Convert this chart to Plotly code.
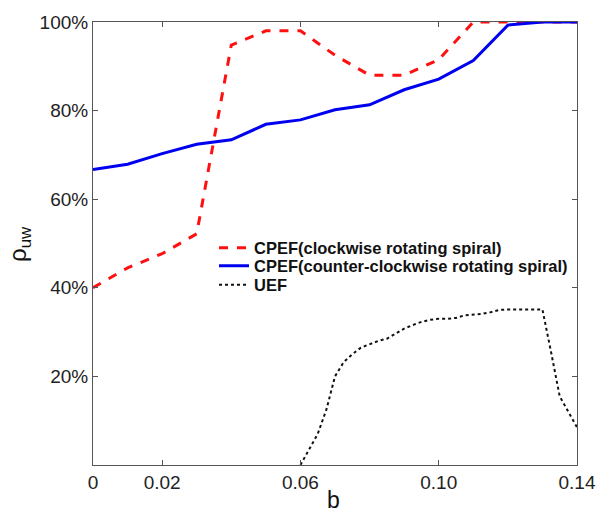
import plotly.graph_objects as go

b_cpef = [0.00, 0.01, 0.02, 0.03, 0.04, 0.05, 0.06, 0.07, 0.08, 0.09, 0.10, 0.11, 0.12, 0.13, 0.14]
cw = [0.400, 0.445, 0.477, 0.522, 0.948, 0.980, 0.980, 0.925, 0.880, 0.880, 0.915, 1.000, 1.000, 1.000, 1.000]
ccw = [0.667, 0.679, 0.703, 0.724, 0.734, 0.769, 0.779, 0.802, 0.813, 0.847, 0.871, 0.913, 0.993, 1.000, 1.000]

b_uef = [0.060, 0.0625, 0.065, 0.0675, 0.070, 0.0725, 0.075, 0.0775, 0.080, 0.0825,
         0.085, 0.0875, 0.090, 0.0925, 0.095, 0.0975, 0.100, 0.1025, 0.105, 0.1075,
         0.110, 0.1125, 0.115, 0.1175, 0.120, 0.1225, 0.125, 0.1275, 0.130, 0.1325,
         0.135, 0.1375, 0.140]
uef = [0.000, 0.035, 0.070, 0.125, 0.200, 0.232, 0.250, 0.265, 0.273, 0.280,
       0.285, 0.297, 0.308, 0.316, 0.323, 0.328, 0.330, 0.330, 0.332, 0.338,
       0.340, 0.341, 0.345, 0.350, 0.351, 0.351, 0.351, 0.351, 0.351, 0.255,
       0.155, 0.120, 0.085]

x_tickvals = [0, 0.02, 0.06, 0.10, 0.14]
x_ticktext = ["0", "0.02", "0.06", "0.10", "0.14"]
y_tickvals = [0.2, 0.4, 0.6, 0.8, 1.0]
y_ticktext = ["20%", "40%", "60%", "80%", "100%"]

fig = go.Figure()
fig.add_trace(go.Scatter(x=b_cpef, y=cw, mode="lines", name="<b>CPEF(clockwise rotating spiral)</b>",
                         legend="legend",
                         line=dict(color="#ff1010", width=3, dash="dash")))
fig.add_trace(go.Scatter(x=b_cpef, y=ccw, mode="lines", name="<b>CPEF(counter-clockwise rotating spiral)</b>",
                         legend="legend2",
                         line=dict(color="#0000f0", width=3)))
fig.add_trace(go.Scatter(x=b_uef, y=uef, mode="lines", name="<b>UEF</b>",
                         legend="legend3",
                         line=dict(color="#111111", width=2, dash="dot")))

axis_common = dict(showgrid=False, zeroline=False, showline=True, mirror="ticks",
                   linecolor="#555555", linewidth=1, ticks="inside", ticklen=5, automargin=False,
                   tickcolor="#555555", tickfont=dict(family="Arial, Liberation Sans", size=19, color="#222222"))

leg_common = dict(x=0.25, xanchor="left", yanchor="middle",
                  bgcolor="rgba(0,0,0,0)", borderwidth=0,
                  font=dict(family="Arial, Liberation Sans", size=16.5, color="#111111"))

fig.update_layout(
    width=600, height=513,
    margin=dict(l=93, r=23, t=22, b=48, autoexpand=False),
    paper_bgcolor="white", plot_bgcolor="white",
    showlegend=True,
    legend=dict(y=0.490, **leg_common),
    legend2=dict(y=0.449, **leg_common),
    legend3=dict(y=0.406, **leg_common),
    xaxis=dict(range=[0, 0.14], tickvals=x_tickvals, ticktext=x_ticktext, **axis_common),
    yaxis=dict(range=[0, 1], tickvals=y_tickvals, ticktext=y_ticktext, **axis_common),
    annotations=[
        dict(text="ρ<sub>uw</sub>", xref="paper", yref="paper", x=-0.152, y=0.5,
             showarrow=False, textangle=-90, xanchor="center", yanchor="middle",
             font=dict(family="Arial, Liberation Sans", size=24, color="#111111")),
        dict(text="b", xref="paper", yref="paper", x=0.496, y=-0.08,
             showarrow=False, xanchor="center", yanchor="middle",
             font=dict(family="Arial, Liberation Sans", size=23, color="#111111")),
    ],
)

fig.write_html("out.html", config={"displayModeBar": False},
               post_script="document.body.style.margin='0';document.body.style.overflow='hidden';")
